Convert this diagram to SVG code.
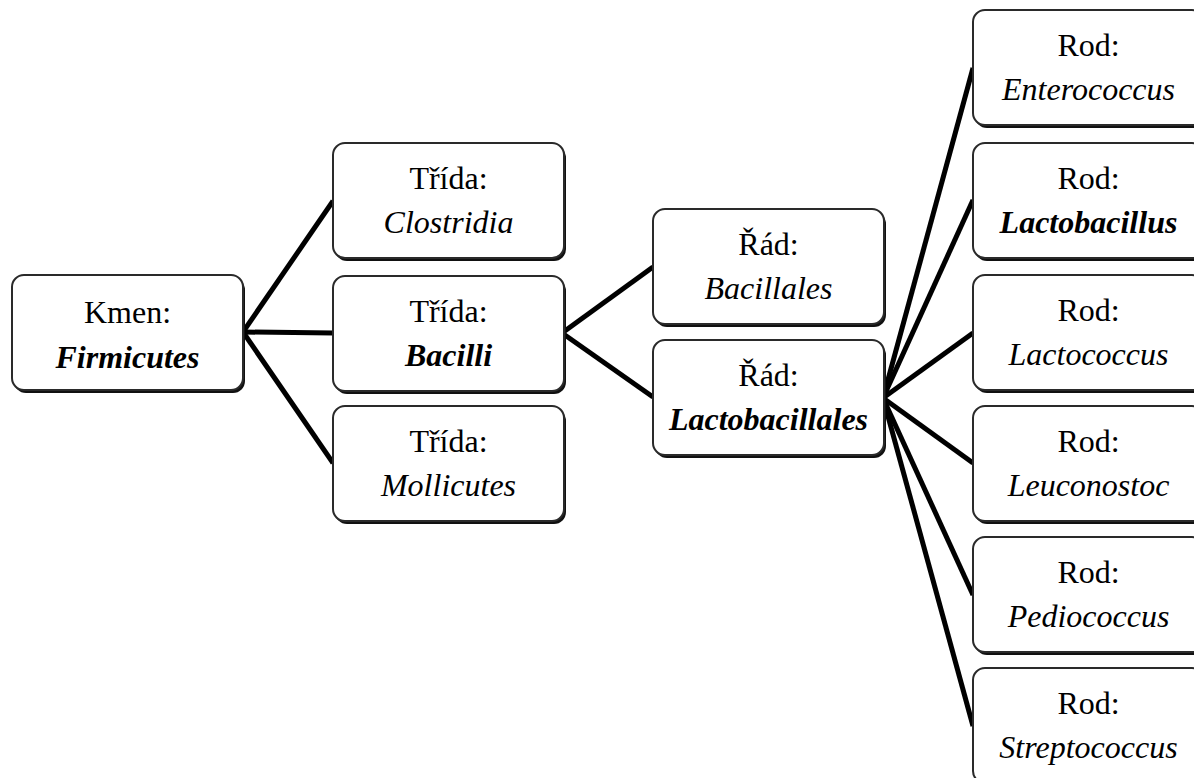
<svg xmlns="http://www.w3.org/2000/svg" width="1194" height="778" viewBox="0 0 1194 778">
<style>
.box{fill:#fff;stroke:#2a2a2a;stroke-width:2}
.sh{fill:#111}
.t{font-family:"Liberation Serif","Times New Roman",serif;font-size:32px;fill:#000;text-anchor:middle}
.i{font-style:italic}
.b{font-weight:bold}
.c{stroke:#000;stroke-width:5;fill:none;stroke-linecap:butt}
</style>
<defs>
<g id="boxshape">
<rect class="sh" x="2" y="3" width="231" height="115" rx="12"/>
<rect class="box" x="0" y="0" width="231" height="115" rx="12"/>
</g>
</defs>
<g id="connectors">
<line class="c" x1="243" y1="332" x2="333" y2="201"/>
<line class="c" x1="243" y1="332" x2="333" y2="333"/>
<line class="c" x1="243" y1="332" x2="333" y2="463"/>
<line class="c" x1="562" y1="333" x2="653" y2="267"/>
<line class="c" x1="562" y1="333" x2="653" y2="397"/>
<line class="c" x1="883" y1="398" x2="973" y2="68"/>
<line class="c" x1="883" y1="398" x2="973" y2="200"/>
<line class="c" x1="883" y1="398" x2="973" y2="333"/>
<line class="c" x1="883" y1="398" x2="973" y2="463"/>
<line class="c" x1="883" y1="398" x2="973" y2="595"/>
<line class="c" x1="883" y1="398" x2="973" y2="726"/>
</g>
<g id="kmen"><use href="#boxshape" x="12" y="275"/>
<text class="t" x="127.5" y="323">Kmen:</text><text class="t i b" x="127.5" y="368">Firmicutes</text></g>
<g id="clostridia"><use href="#boxshape" x="333" y="143"/>
<text class="t" x="448.5" y="189">Třída:</text><text class="t i" x="448.5" y="233">Clostridia</text></g>
<g id="bacilli"><use href="#boxshape" x="333" y="276"/>
<text class="t" x="448.5" y="322">Třída:</text><text class="t i b" x="448.5" y="366">Bacilli</text></g>
<g id="mollicutes"><use href="#boxshape" x="333" y="406"/>
<text class="t" x="448.5" y="452">Třída:</text><text class="t i" x="448.5" y="496">Mollicutes</text></g>
<g id="bacillales"><use href="#boxshape" x="653" y="209"/>
<text class="t" x="768.5" y="255">Řád:</text><text class="t i" x="768.5" y="299">Bacillales</text></g>
<g id="lactobacillales"><use href="#boxshape" x="653" y="340"/>
<text class="t" x="768.5" y="386">Řád:</text><text class="t i b" x="768.5" y="430">Lactobacillales</text></g>
<g id="enterococcus"><use href="#boxshape" x="973" y="10"/>
<text class="t" x="1088.5" y="56">Rod:</text><text class="t i" x="1088.5" y="100">Enterococcus</text></g>
<g id="lactobacillus"><use href="#boxshape" x="973" y="143"/>
<text class="t" x="1088.5" y="189">Rod:</text><text class="t i b" x="1088.5" y="233">Lactobacillus</text></g>
<g id="lactococcus"><use href="#boxshape" x="973" y="275"/>
<text class="t" x="1088.5" y="321">Rod:</text><text class="t i" x="1088.5" y="365">Lactococcus</text></g>
<g id="leuconostoc"><use href="#boxshape" x="973" y="406"/>
<text class="t" x="1088.5" y="452">Rod:</text><text class="t i" x="1088.5" y="496">Leuconostoc</text></g>
<g id="pediococcus"><use href="#boxshape" x="973" y="537"/>
<text class="t" x="1088.5" y="583">Rod:</text><text class="t i" x="1088.5" y="627">Pediococcus</text></g>
<g id="streptococcus"><use href="#boxshape" x="973" y="668"/>
<text class="t" x="1088.5" y="714">Rod:</text><text class="t i" x="1088.5" y="758">Streptococcus</text></g>
</svg>
